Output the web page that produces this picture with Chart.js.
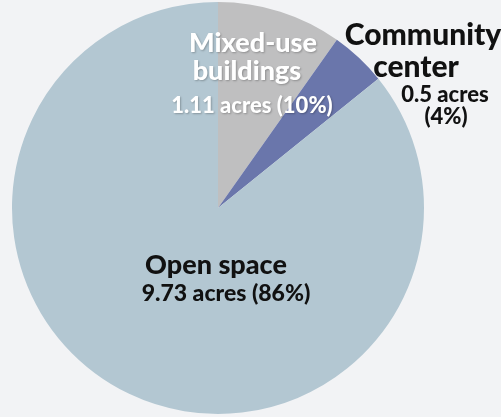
<!DOCTYPE html>
<html>
<head>
<meta charset="utf-8">
<script src="https://cdn.jsdelivr.net/npm/chart.js@4.4.1/dist/chart.umd.min.js"></script>
<style>
  html, body { margin: 0; padding: 0; background: #f2f3f5; }
  #wrap { width: 501px; height: 417px; position: relative; }
</style>
</head>
<body>
<div id="wrap"><canvas id="pie"></canvas></div>
<script>
// Land use split, acres
const categorias = ['Mixed-use buildings', 'Community center', 'Open space'];
const acres = [1.11, 0.5, 9.73];
const percentuais = ['10%', '4%', '86%'];
const cores = ['#bfbfc0', '#6a76ab', '#b3c7d2'];

// label lines: [text, x, baseline y, size, color]
const rotulos = [
  ['Mixed-use', 253, 52, 27, '#ffffff'],
  ['buildings', 247, 80, 27, '#ffffff'],
  [acres[0] + ' acres (' + percentuais[0] + ')', 252, 113, 22, '#ffffff'],
  ['Community', 423, 45, 30, '#111111'],
  ['center', 416, 77, 30, '#111111'],
  [acres[1] + ' acres', 445, 102, 22, '#111111'],
  ['(' + percentuais[1] + ')', 446, 124, 22, '#111111'],
  ['Open space', 216, 274, 27, '#111111'],
  [acres[2] + ' acres (' + percentuais[2] + ')', 226, 301, 23, '#111111']
];

const rotulosPlugin = {
  id: 'rotulos',
  afterDraw(chart) {
    const ctx = chart.ctx;
    ctx.save();
    ctx.textAlign = 'center';
    ctx.textBaseline = 'alphabetic';
    rotulos.forEach(([txt, x, y, size, cor]) => {
      ctx.font = '900 ' + size + 'px Lato, "DejaVu Sans", sans-serif';
      if (cor === '#ffffff') {
        ctx.shadowColor = 'rgba(0,0,0,0.25)';
        ctx.shadowBlur = 2;
        ctx.shadowOffsetX = 1;
        ctx.shadowOffsetY = 1;
      } else {
        ctx.shadowColor = 'transparent';
      }
      ctx.fillStyle = cor;
      ctx.fillText(txt, x, y);
    });
    ctx.restore();
  }
};

new Chart(document.getElementById('pie'), {
  type: 'pie',
  data: {
    labels: categorias,
    datasets: [{
      data: acres,
      backgroundColor: cores,
      borderWidth: 0
    }]
  },
  options: {
    responsive: true,
    maintainAspectRatio: false,
    animation: false,
    layout: { padding: { left: 12, right: 77, top: 2, bottom: 3 } },
    plugins: {
      legend: { display: false },
      tooltip: { enabled: false }
    }
  },
  plugins: [rotulosPlugin]
});
</script>
</body>
</html>
